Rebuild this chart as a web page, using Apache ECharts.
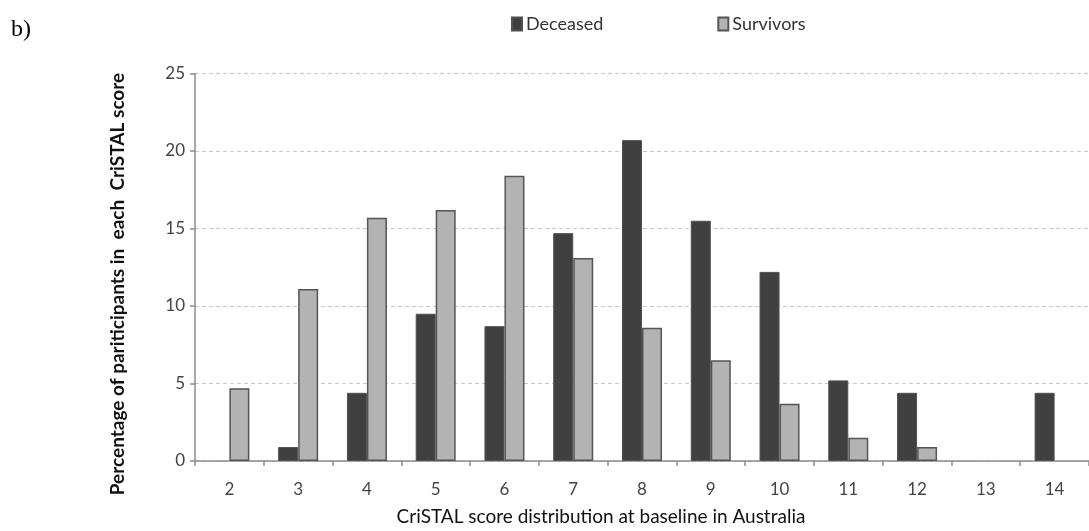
<!DOCTYPE html>
<html>
<head>
<meta charset="utf-8">
<script src="https://cdn.jsdelivr.net/npm/echarts@6/dist/echarts.min.js"></script>
<style>
  html, body { margin: 0; padding: 0; background: #ffffff; }
  #chart { width: 1089px; height: 531px; }
</style>
</head>
<body>
<div id="chart"></div>
<script>
const categories = ['2', '3', '4', '5', '6', '7', '8', '9', '10', '11', '12', '13', '14'];
const deceased = [0, 0.9, 4.4, 9.5, 8.7, 14.7, 20.7, 15.5, 12.2, 5.2, 4.4, 0, 4.4];
const survivors = [4.7, 11.1, 15.7, 16.2, 18.4, 13.1, 8.6, 6.5, 3.7, 1.5, 0.9, 0, 0];
const seriesNames = ['Deceased', 'Survivors'];
const xTitle = 'CriSTAL score distribution at baseline in Australia';
const yTitle = 'Percentage of pariticipants in  each  CriSTAL score';
const panelLabel = 'b)';

// zero-height bars are not drawn in the original
const hideZero = arr => arr.map(v => (v === 0 ? '-' : v));

const chart = echarts.init(document.getElementById('chart'), null, { renderer: 'canvas' });
const font = 'Lato, "Open Sans", sans-serif';

chart.setOption({
  animation: false,
  backgroundColor: '#ffffff',
  legend: {
    data: seriesNames,
    left: 506,
    top: 10,
    icon: 'rect',
    itemWidth: 10,
    itemHeight: 13,
    itemGap: 114,
    textStyle: { fontFamily: font, fontSize: 18, color: '#333333', padding: [0, 0, 0, -1] }
  },
  grid: { left: 195, right: -8, top: 73.5, bottom: 67.7, containLabel: false },
  xAxis: {
    type: 'category',
    data: categories,
    boundaryGap: true,
    name: xTitle,
    nameLocation: 'middle',
    nameGap: 46,
    nameTextStyle: { fontFamily: font, fontSize: 19, color: '#111111', padding: [0, 82, 0, 0] },
    axisLine: { lineStyle: { color: '#8c8c8c', width: 1.5 } },
    axisTick: { show: true, alignWithLabel: false, length: 5, lineStyle: { color: '#8c8c8c', width: 1.5 } },
    axisLabel: { fontFamily: font, fontSize: 17, color: '#444444', margin: 20 },
    splitLine: { show: false }
  },
  yAxis: {
    type: 'value',
    min: 0,
    max: 25,
    interval: 5,
    axisLine: { show: true, lineStyle: { color: '#8c8c8c', width: 1.5 } },
    axisTick: { show: true, length: 5, lineStyle: { color: '#8c8c8c', width: 1.5 } },
    axisLabel: { fontFamily: font, fontSize: 17, color: '#444444', margin: 10 },
    splitLine: { show: true, lineStyle: { color: '#c8c8c8', type: [4, 3], width: 1 } }
  },
  graphic: [
    {
      type: 'text',
      left: 11,
      top: 18,
      style: { text: panelLabel, font: '24px "Liberation Serif", serif', fill: '#000000' }
    },
    {
      type: 'text',
      x: 118,
      y: 284,
      rotation: Math.PI / 2,
      style: {
        text: yTitle,
        font: 'bold 19px Lato, "Open Sans", sans-serif',
        fill: '#111111',
        align: 'center',
        verticalAlign: 'middle'
      }
    }
  ],
  series: [
    {
      name: seriesNames[0],
      type: 'bar',
      data: hideZero(deceased),
      barWidth: 20,
      barGap: '0%',
      itemStyle: { color: '#404040', borderColor: '#505050', borderWidth: 1 }
    },
    {
      name: seriesNames[1],
      type: 'bar',
      data: hideZero(survivors),
      barWidth: 20,
      barGap: '0%',
      itemStyle: { color: '#b3b3b3', borderColor: '#555555', borderWidth: 1.5 }
    }
  ]
});
</script>
</body>
</html>
